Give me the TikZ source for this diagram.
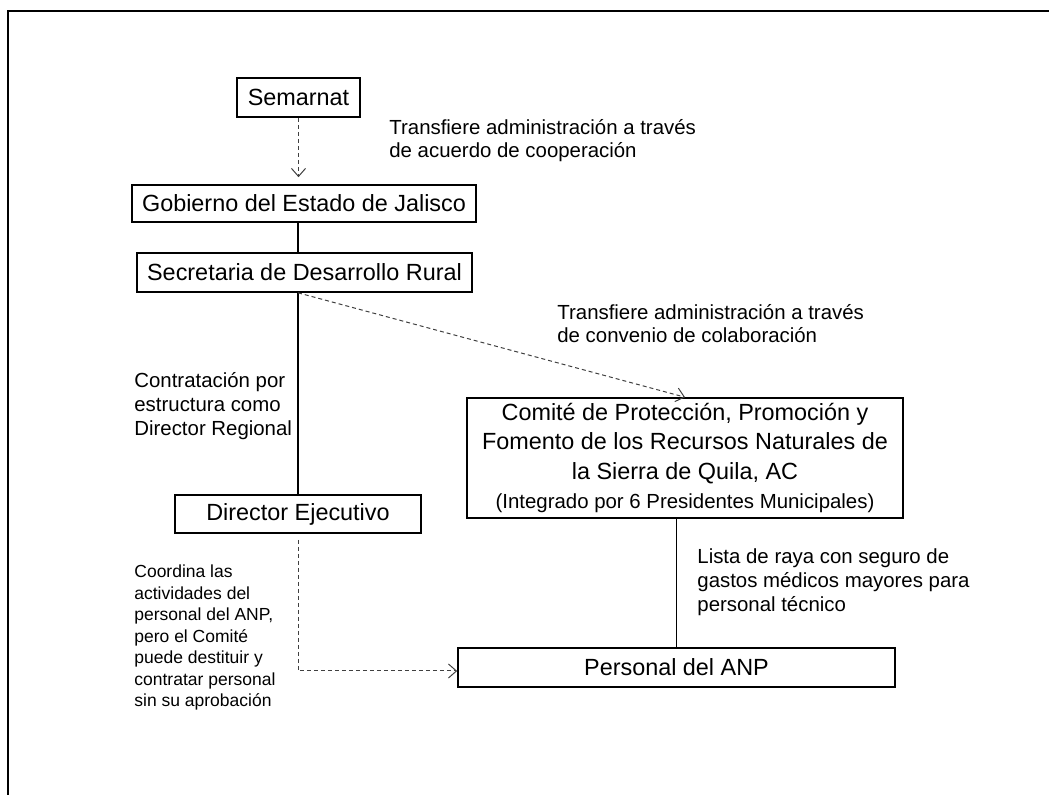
\documentclass[tikz,border=0pt]{standalone}
\usepackage{fontspec}
\setmainfont{Liberation Sans}
\usetikzlibrary{arrows.meta}

\begin{document}
\begin{tikzpicture}[x=0.5pt,y=-0.5pt,
  caja/.style={draw,line width=0.8pt,inner sep=0pt,font=\fontsize{11.7}{14}\selectfont},
  nota/.style={anchor=west,align=left,inner sep=0pt,font=\fontsize{10.2}{11.5}\selectfont},
  linea/.style={line width=0.7pt},
  trazos/.style={line width=0.5pt,draw=black!75,dash pattern=on 2pt off 1.5pt,-{Straight Barb[length=4pt,width=7pt]}}]
\useasboundingbox (0,0) rectangle (1049,795);
\draw[line width=1pt] (8,795) -- (8,11) -- (1049,11);

\node[caja,minimum width=61.5pt,minimum height=19.5pt] (semarnat) at (298.5,97.5) {Semarnat};
\node[caja,minimum width=172pt,minimum height=18.5pt] (gobierno) at (304,203.5) {Gobierno del Estado de Jalisco};
\node[caja,minimum width=167.5pt,minimum height=19.5pt] (secretaria) at (304.5,272.5) {Secretaria de Desarrollo Rural};
\node[caja,minimum width=123pt,minimum height=19pt] (director) at (298,514) {Director Ejecutivo};
\node[caja,minimum width=218pt,minimum height=60pt,align=center,font=\fontsize{11.7}{14.75}\selectfont] (comite) at (685,458)
  {Comité de Protección, Promoción y\\Fomento de los Recursos Naturales de\\la Sierra de Quila, AC\\{\fontsize{10.2}{13}\selectfont (Integrado por 6 Presidentes Municipales)}};
\node[caja,minimum width=218.5pt,minimum height=19.5pt] (personal) at (676.5,667.5) {Personal del ANP};

\node[nota] (acuerdo) at (389,140.5) {Transfiere administración a través\\de acuerdo de cooperación};
\node[nota] (convenio) at (557,323.5) {Transfiere administración a través\\de convenio de colaboración};
\node[nota,font=\fontsize{10.2}{12}\selectfont] (contratacion) at (134,406) {Contratación por\\estructura como\\Director Regional};
\node[nota,font=\fontsize{10.2}{12}\selectfont] (lista) at (697,582) {Lista de raya con seguro de\\gastos médicos mayores para\\personal técnico};
\node[nota,font=\fontsize{8.75}{10.75}\selectfont] (coordina) at (134,637.5) {Coordina las\\actividades del\\personal del ANP,\\pero el Comité\\puede destituir y\\contratar personal\\sin su aprobación};

\draw[trazos,shorten >=3.5pt] (semarnat.south) -- (semarnat.south |- gobierno.north);
\draw[linea] (gobierno.south -| director.north) -- (secretaria.north -| director.north);
\draw[linea] (secretaria.south -| director.north) -- (director.north);
\draw[trazos] (secretaria.south -| director.north) -- (comite.north);
\draw[trazos] ([yshift=-3pt]director.south) |- ([yshift=-1.75pt]personal.west);
\draw[linea] (comite.south -| personal.north) -- (personal.north);
\end{tikzpicture}
\end{document}
